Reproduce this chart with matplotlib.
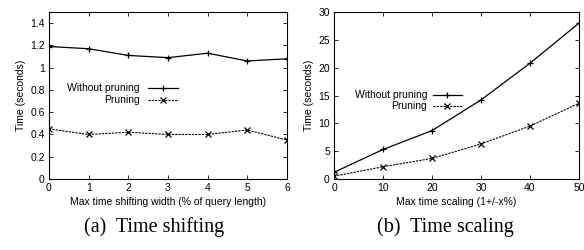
import matplotlib
matplotlib.use("Agg")
import matplotlib.pyplot as plt
from matplotlib.lines import Line2D

shift_x = [0, 1, 2, 3, 4, 5, 6]
shift_without = [1.19, 1.17, 1.11, 1.09, 1.13, 1.06, 1.08]
shift_pruning = [0.45, 0.40, 0.42, 0.40, 0.40, 0.44, 0.35]

scale_x = [0, 10, 20, 30, 40, 50]
scale_without = [1.2, 5.3, 8.7, 14.2, 20.8, 28.0]
scale_pruning = [0.5, 2.2, 3.7, 6.3, 9.5, 13.6]

series_labels = ['Without pruning', 'Pruning']

plt.rcParams['font.family'] = ['Liberation Sans', 'DejaVu Sans']

fig = plt.figure(figsize=(5.84, 2.5), dpi=100)
W, H = 584, 250
FS = 7.5

STY = [dict(color='black', lw=0.9, marker='+', ms=5, mew=0.9),
       dict(color='black', lw=0.8, ls=(0, (2, 1)), marker='x', ms=4, mew=0.9)]

def make_ax(x0, x1, y0, y1):
    return fig.add_axes([x0 / W, 1 - y1 / H, (x1 - x0) / W, (y1 - y0) / H])

def style(ax):
    ax.tick_params(direction='in', top=True, right=True, labelsize=FS, length=3, width=0.6, pad=3)
    for s in ax.spines.values():
        s.set_linewidth(0.8)

def gp_legend(ax, xt, xs0, xs1, ys):
    for lab, st, y in zip(series_labels, STY, ys):
        ax.text(xt, y, lab, transform=ax.transAxes, ha='right', va='center', fontsize=FS)
        ax.add_line(Line2D([xs0, xs1], [y, y], transform=ax.transAxes,
                           color=st['color'], lw=st['lw'], ls=st.get('ls', '-')))
        ax.add_line(Line2D([(xs0 + xs1) / 2], [y], transform=ax.transAxes, ls='none',
                           marker=st['marker'], ms=st['ms'], mew=st['mew'], color='black'))

ax1 = make_ax(49, 287, 12, 179)
ax1.plot(shift_x, shift_without, **STY[0])
ax1.plot(shift_x, shift_pruning, **STY[1])
ax1.set_xlim(0, 6)
ax1.set_ylim(0, 1.5)
ax1.set_xticks(shift_x)
ax1.set_yticks([0, 0.2, 0.4, 0.6, 0.8, 1, 1.2, 1.4])
ax1.set_yticklabels(['0', '0.2', '0.4', '0.6', '0.8', '1', '1.2', '1.4'])
ax1.set_xlabel('Max time shifting width (% of query length)', fontsize=FS, labelpad=3)
ax1.set_ylabel('Time (seconds)', fontsize=FS, labelpad=3)
style(ax1)
gp_legend(ax1, 0.382, 0.416, 0.542, [0.542, 0.476])

ax2 = make_ax(334, 579, 12, 179)
ax2.plot(scale_x, scale_without, **STY[0])
ax2.plot(scale_x, scale_pruning, **STY[1])
ax2.set_xlim(0, 50)
ax2.set_ylim(0, 30)
ax2.set_xticks(scale_x)
ax2.set_yticks([0, 5, 10, 15, 20, 25, 30])
ax2.set_xlabel('Max time scaling (1+/-x%)', fontsize=FS, labelpad=3)
ax2.set_ylabel('Time (seconds)', fontsize=FS, labelpad=3)
style(ax2)
gp_legend(ax2, 0.38, 0.404, 0.522, [0.502, 0.44])

fig.text(154 / W, 1 - 227 / H, '(a)  Time shifting', ha='center', va='center',
         fontsize=14.5, family='Liberation Serif')
fig.text(445 / W, 1 - 227 / H, '(b)  Time scaling', ha='center', va='center',
         fontsize=14.5, family='Liberation Serif')

fig.savefig('out.png', dpi=100)
